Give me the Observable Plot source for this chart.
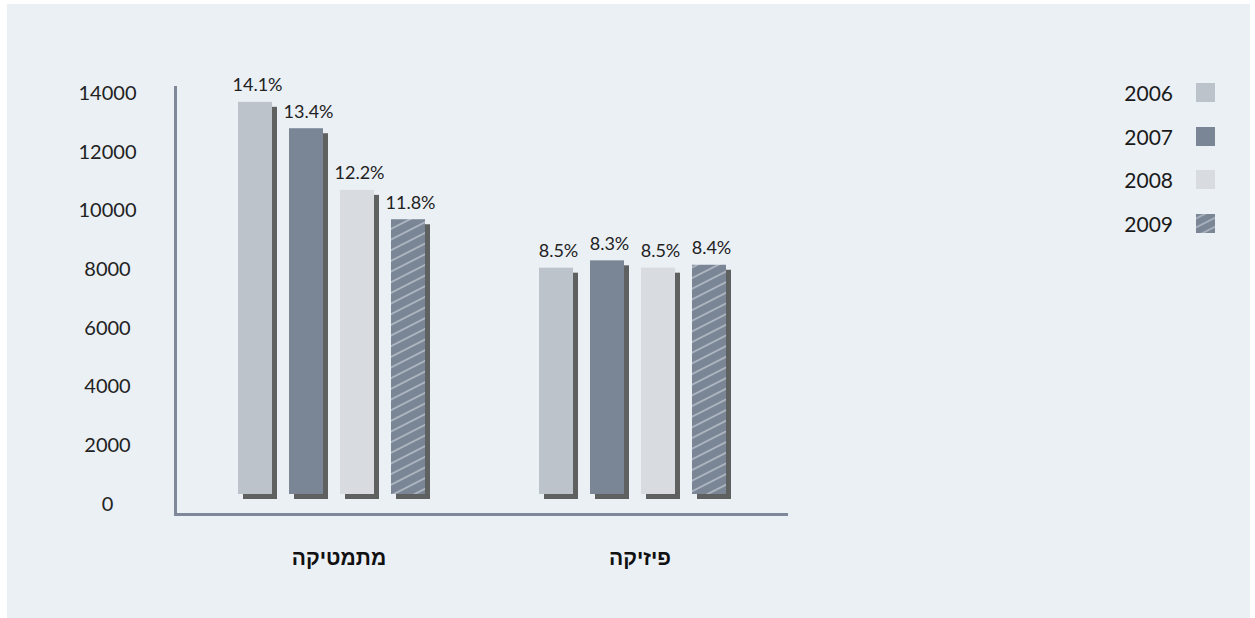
<!DOCTYPE html>
<html>
<head>
<meta charset="utf-8">
<script src="https://cdn.jsdelivr.net/npm/d3@7"></script>
<script src="https://cdn.jsdelivr.net/npm/@observablehq/plot@0.6"></script>
<style>
  html, body { margin: 0; padding: 0; background: #ffffff; }
  #bg { position: absolute; left: 7px; top: 4px; width: 1243px; height: 614px; background: #ebf0f5; }
  #chart { position: absolute; left: 0; top: 0; }
  #legend { position: absolute; left: 1080px; top: 70px; font-family: Lato, "Noto Sans", sans-serif; font-size: 21px; color: #1a1a1a; }
  .item { position: absolute; left: 0; width: 135px; height: 24px; }
  .item span { position: absolute; right: 42px; top: 0; line-height: 24px; }
  .item svg { position: absolute; left: 116px; top: 2px; }
</style>
</head>
<body>
<div id="bg"></div>
<div id="chart"></div>
<div id="legend"></div>
<script>
// ---- data ----
const subjects = ["מתמטיקה", "פיזיקה"];
const years = ["2006", "2007", "2008", "2009"];
const mathValues = [13700, 12800, 10700, 9700];
const physicsValues = [8050, 8300, 8050, 8150];
const mathPct = ["14.1%", "13.4%", "12.2%", "11.8%"];
const physicsPct = ["8.5%", "8.3%", "8.5%", "8.4%"];
const yTicks = [0, 2000, 4000, 6000, 8000, 10000, 12000, 14000];
const colors = { "2006": "#bcc3cb", "2007": "#7a8595", "2008": "#d8dbe0", "2009": "url(#hatch2009)" };

const data = [];
subjects.forEach((s, si) => {
  const vals = si === 0 ? mathValues : physicsValues;
  const pcts = si === 0 ? mathPct : physicsPct;
  years.forEach((y, yi) => data.push({ subject: s, year: y, value: vals[yi], pct: pcts[yi] }));
});

const step = 51, barW = 34.5;
const bandW = 301.5;
const inset = (bandW - barW) / 2;
const numFont = "Lato, 'Noto Sans', sans-serif";

const marks = [];
years.forEach((yr, i) => {
  const off = (i - 1.5) * step;
  const rows = data.filter(d => d.year === yr);
  marks.push(Plot.barY(rows, { x: "subject", y: "value", fill: "#5f6161", dx: off + 5, dy: 5, insetLeft: inset, insetRight: inset, insetBottom: 10 }));
  marks.push(Plot.barY(rows, { x: "subject", y: "value", fill: colors[yr], dx: off, insetLeft: inset, insetRight: inset, insetBottom: 10 }));
  marks.push(Plot.text(rows, { x: "subject", y: "value", text: "pct", dx: off + 2, dy: -11, lineAnchor: "bottom", fontSize: 18, fill: "#222", fontFamily: numFont }));
});

const chart = Plot.plot({
  width: 1255,
  height: 618,
  marginLeft: 175,
  marginRight: 469,
  marginTop: 87,
  marginBottom: 104,
  style: { background: "transparent", overflow: "visible" },
  x: { domain: subjects, range: [180, 783], padding: 0, axis: null },
  y: { domain: [0, 14000], range: [504, 93], axis: null },
  marks: [
    Plot.frame({ anchor: "left", stroke: "#7e8898", strokeWidth: 3 }),
    Plot.frame({ anchor: "bottom", stroke: "#7e8898", strokeWidth: 3 }),
    Plot.axisY(yTicks, { anchor: "left", tickSize: 0, dx: -59, textAnchor: "middle", fontSize: 20, fill: "#222", fontFamily: numFont, label: null, tickFormat: d => String(d) }),
    Plot.axisX({ anchor: "bottom", tickSize: 0, dx: 7, dy: 27, fontSize: 21, fontWeight: "bold", fill: "#111", fontFamily: "'Liberation Sans', Arial, sans-serif", label: null }),
    ...marks
  ]
});

const ns = "http://www.w3.org/2000/svg";
const defs = document.createElementNS(ns, "defs");
defs.innerHTML = `<pattern id="hatch2009" patternUnits="userSpaceOnUse" width="20" height="9.5" patternTransform="rotate(-27)">
  <rect width="20" height="9.5" fill="#7a8595"></rect>
  <line x1="0" y1="4.75" x2="20" y2="4.75" stroke="#c3cad4" stroke-width="1.3"></line>
</pattern>`;
chart.insertBefore(defs, chart.firstChild);
document.getElementById("chart").appendChild(chart);

// legend
const legend = document.getElementById("legend");
years.forEach((yr, i) => {
  const div = document.createElement("div");
  div.className = "item";
  div.style.top = (i * 43.5 + 11) + "px";
  const fill = yr === "2009" ? "url(#hatchLeg)" : colors[yr];
  div.innerHTML = `<span>${yr}</span><svg width="19" height="19"><defs><pattern id="hatchLeg" patternUnits="userSpaceOnUse" width="20" height="8" patternTransform="rotate(-27)"><rect width="20" height="8" fill="#7a8595"></rect><line x1="0" y1="4" x2="20" y2="4" stroke="#c3cad4" stroke-width="1.2"></line></pattern></defs><rect width="19" height="19" fill="${fill}"></rect></svg>`;
  legend.appendChild(div);
});
</script>
</body>
</html>
